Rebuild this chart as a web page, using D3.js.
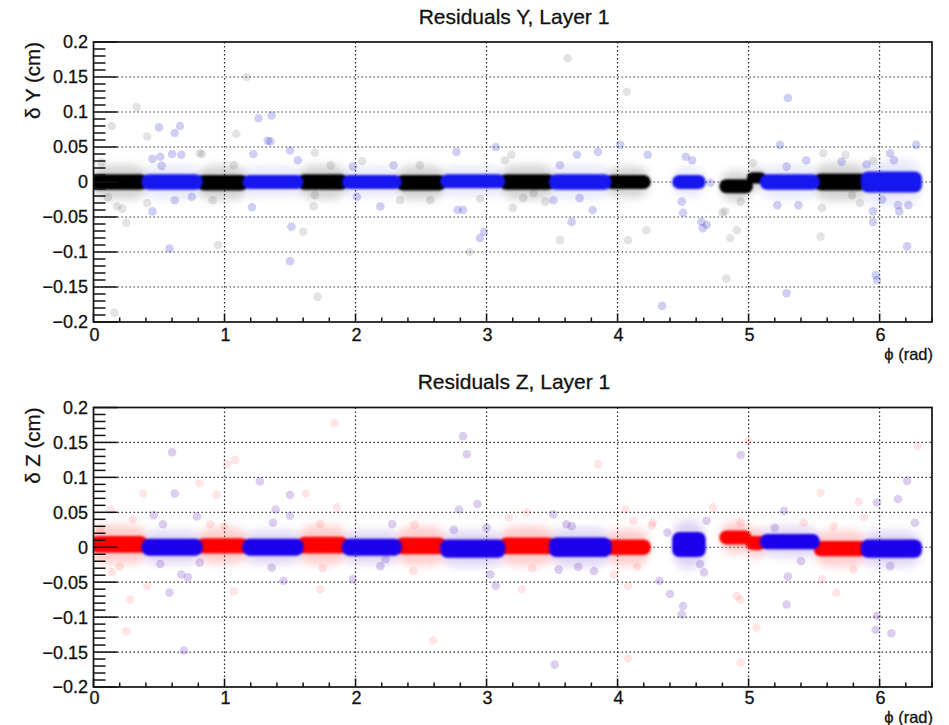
<!DOCTYPE html>
<html><head><meta charset="utf-8">
<script src="https://cdn.jsdelivr.net/npm/d3@7"></script>
<style>body{margin:0;background:#fff}svg{display:block}text{font-family:"Liberation Sans",Arial,Helvetica,sans-serif;fill:#111;stroke:#111;stroke-width:0.3}</style>
</head><body><svg id="c" width="949" height="725"></svg>
<script>
// ---------- data ----------
const xTicks = [0, 1, 2, 3, 4, 5, 6];
const yTicks = [-0.2, -0.15, -0.1, -0.05, 0, 0.05, 0.1, 0.15, 0.2];
const yTickLabels = ["\u22120.2", "\u22120.15", "\u22120.1", "\u22120.05", "0", "0.05", "0.1", "0.15", "0.2"];

// dense bands: [phiStart, phiEnd, centre (cm), half-thickness (cm)]
const yBlackBands = [[0.00,0.39,0.000,0.011],[0.81,1.16,-0.001,0.011],[1.58,1.92,0.000,0.011],[2.33,2.67,-0.001,0.011],[3.12,3.50,0.000,0.011],[3.93,4.23,0.000,0.010],[4.80,5.01,-0.006,0.010],[5.01,5.11,0.006,0.008],[5.52,5.88,0.000,0.012]];
const yBlueBands = [[0.39,0.81,0.000,0.011],[1.16,1.58,0.000,0.010],[1.92,2.33,0.000,0.010],[2.67,3.12,0.001,0.010],[3.50,3.93,0.000,0.011],[4.44,4.65,0.000,0.010],[5.11,5.52,0.000,0.011],[5.88,6.30,0.000,0.015]];
const zRedBands = [[0.00,0.39,0.004,0.012],[0.81,1.16,0.002,0.011],[1.58,1.92,0.003,0.012],[2.33,2.67,0.002,0.012],[3.12,3.50,0.002,0.012],[3.93,4.23,0.000,0.011],[4.80,5.00,0.014,0.010],[5.00,5.11,0.006,0.010],[5.52,5.88,-0.002,0.011]];
const zBlueBands = [[0.39,0.81,0.000,0.012],[1.16,1.58,0.000,0.012],[1.92,2.33,0.000,0.012],[2.67,3.12,-0.002,0.013],[3.50,3.93,0.000,0.014],[4.44,4.65,0.004,0.018],[5.11,5.52,0.008,0.011],[5.88,6.30,-0.002,0.013]];

// scattered points: [phi, residual (cm)]
const yGrayPoints = [[0.14,0.080],[0.33,0.107],[0.41,0.065],[0.83,0.040],[1.09,0.069],[1.17,0.150],[1.69,0.042],[0.18,-0.035],[0.25,-0.058],[0.16,-0.187],[0.41,-0.030],[0.91,-0.026],[0.95,-0.090],[1.60,-0.071],[1.69,-0.019],[0.81,0.041],[1.07,0.024],[1.81,0.024],[1.68,-0.035],[0.22,-0.038],[2.49,0.024],[2.57,-0.026],[3.14,0.031],[3.19,0.039],[3.28,-0.023],[3.45,-0.028],[3.36,-0.016],[2.34,-0.026],[3.20,-0.037],[4.82,-0.042],[4.94,-0.028],[5.03,0.027],[5.57,0.041],[5.74,0.039],[5.79,-0.019],[5.85,-0.030],[5.56,-0.037],[4.22,-0.069],[4.08,-0.083],[4.86,-0.080],[4.91,-0.069],[4.83,-0.138],[5.55,-0.078],[4.80,-0.044],[3.62,0.177],[4.07,0.129],[1.71,-0.164],[3.56,-0.083],[2.87,-0.100],[0.06,0.028],[0.11,-0.022],[2.05,0.030],[2.95,-0.024],[5.95,0.030]];
const yBluePoints = [[0.50,0.078],[0.66,0.080],[0.62,0.070],[1.26,0.091],[1.36,0.095],[1.33,0.059],[1.22,0.040],[0.60,0.040],[0.67,0.039],[0.45,0.033],[0.51,0.036],[1.50,0.045],[0.45,-0.042],[0.58,-0.095],[1.51,-0.064],[1.50,-0.113],[1.21,-0.036],[0.62,-0.026],[0.75,-0.021],[0.52,0.023],[1.35,0.058],[1.56,0.031],[1.98,0.022],[2.19,-0.035],[2.01,-0.021],[3.69,0.039],[3.71,-0.023],[3.85,0.043],[2.78,-0.040],[2.82,-0.040],[2.77,0.043],[3.07,0.050],[3.56,0.024],[3.51,-0.026],[3.65,-0.057],[3.81,-0.040],[2.29,0.024],[4.02,0.053],[4.23,0.039],[4.52,0.036],[4.57,0.031],[4.49,-0.028],[4.50,-0.044],[4.71,-0.001],[5.24,0.053],[5.29,0.022],[5.22,-0.033],[5.38,-0.033],[5.44,0.031],[5.71,0.029],[5.95,-0.042],[6.11,0.031],[6.14,-0.033],[6.15,-0.042],[6.22,-0.033],[6.28,0.053],[6.08,0.041],[4.64,-0.057],[4.68,-0.061],[4.65,-0.066],[4.34,-0.177],[5.29,-0.159],[6.21,-0.092],[5.97,-0.133],[5.98,-0.140],[5.95,-0.057],[2.98,-0.071],[2.95,-0.080],[5.30,0.120],[5.90,0.025],[6.02,-0.025]];
const zPinkPoints = [[0.38,0.077],[0.81,0.092],[0.94,0.075],[1.02,0.119],[1.08,0.125],[1.62,0.077],[0.89,0.033],[0.30,0.040],[0.13,0.054],[0.41,-0.055],[0.14,-0.036],[1.73,-0.060],[1.07,-0.063],[1.73,0.033],[1.86,0.057],[2.44,-0.034],[3.17,0.043],[3.27,-0.060],[3.31,0.050],[3.97,-0.039],[4.06,0.054],[4.27,0.035],[4.08,-0.055],[4.12,0.038],[4.26,0.031],[4.73,0.057],[4.91,-0.070],[4.94,-0.075],[4.94,-0.165],[5.06,-0.115],[5.42,0.035],[5.55,0.078],[5.56,-0.046],[5.67,-0.065],[5.84,0.065],[5.88,0.043],[4.94,0.035],[4.08,-0.159],[5.00,0.152],[1.84,0.178],[6.29,0.145],[0.28,-0.075],[0.25,-0.120],[2.59,-0.133],[3.85,0.119],[0.05,0.025],[0.20,-0.028],[1.00,0.030],[1.75,-0.030],[2.45,0.032],[3.35,-0.030],[4.15,-0.028],[5.65,0.030],[5.80,-0.032]];
const zPurplePoints = [[0.60,0.136],[0.62,0.077],[1.27,0.094],[1.50,0.075],[1.39,0.054],[1.37,0.035],[0.46,0.046],[0.53,0.033],[0.79,0.044],[0.51,-0.024],[0.67,-0.039],[0.72,-0.043],[0.81,-0.022],[0.58,-0.065],[1.36,-0.029],[1.45,-0.048],[2.19,-0.027],[2.23,-0.017],[1.98,-0.046],[1.50,0.045],[2.28,0.033],[2.79,0.054],[2.93,0.062],[3.03,-0.039],[3.07,-0.055],[3.51,0.047],[3.55,-0.032],[3.82,-0.034],[4.38,0.021],[3.61,0.033],[4.32,-0.048],[4.40,-0.067],[4.50,-0.084],[4.49,-0.096],[4.63,-0.024],[4.66,-0.036],[4.68,0.038],[5.29,-0.082],[5.30,-0.042],[5.27,0.052],[5.98,0.064],[6.14,0.069],[6.08,-0.027],[5.98,-0.098],[5.97,-0.118],[6.09,-0.123],[6.21,0.095],[6.27,0.035],[4.94,0.132],[2.82,0.159],[2.85,0.133],[0.69,-0.148],[3.52,-0.168],[2.75,0.025],[3.00,0.028],[3.65,0.030],[3.70,-0.028],[5.20,0.028],[5.40,-0.020]];

// ---------- drawing ----------
const svg = d3.select("#c");
const defs = svg.append("defs");
defs.append("filter").attr("id","bS").attr("x","-20%").attr("y","-100%").attr("width","140%").attr("height","300%")
  .append("feGaussianBlur").attr("stdDeviation",1.0);
defs.append("filter").attr("id","bL").attr("x","-20%").attr("y","-100%").attr("width","140%").attr("height","300%")
  .append("feGaussianBlur").attr("stdDeviation",4.5);

const x = d3.scaleLinear().domain([0, 6.4]).range([93.5, 932]);

const panels = [
  {id:"Y", title:"Residuals Y, Layer 1", titleY:24, top:42, bottom:322, ylab:"\u03b4 Y (cm)", tickDy:18.5, phiDy:37.5,
   layers:[
     {bands:yBlackBands, pts:yGrayPoints, core:"#000", halo:"#000", haloOp:0.17, haloK:2.2, ptCol:"#000", ptOp:0.11},
     {bands:yBlueBands, pts:yBluePoints, core:"#1414ee", halo:"#2a2ad0", haloOp:0.12, haloK:2.0, ptCol:"#2626c8", ptOp:0.22}
   ]},
  {id:"Z", title:"Residuals Z, Layer 1", titleY:389, top:407.5, bottom:687, ylab:"\u03b4 Z (cm)", tickDy:17, phiDy:36,
   layers:[
     {bands:zRedBands, pts:zPinkPoints, core:"#ff0000", halo:"#ff1010", haloOp:0.2, haloK:2.3, ptCol:"#ff0000", ptOp:0.1},
     {bands:zBlueBands, pts:zPurplePoints, core:"#1a00ec", halo:"#5a1cc0", haloOp:0.2, haloK:1.9, ptCol:"#5a20b0", ptOp:0.22}
   ]}
];

panels.forEach(p => {
  const y = d3.scaleLinear().domain([-0.2, 0.2]).range([p.bottom, p.top]);
  const g = svg.append("g");
  const clipId = "clip" + p.id;
  defs.append("clipPath").attr("id", clipId).append("rect")
    .attr("x", x(0)).attr("y", p.top).attr("width", x(6.4) - x(0)).attr("height", p.bottom - p.top);

  // grid
  const grid = g.append("g").attr("stroke", "#222").attr("stroke-width", 1.2).attr("stroke-dasharray", "1.4,2.6");
  grid.selectAll(".gx").data(xTicks.filter(t => t > 0)).join("line")
    .attr("x1", d => x(d)).attr("x2", d => x(d)).attr("y1", p.top).attr("y2", p.bottom);
  grid.selectAll(".gy").data(yTicks.filter(t => Math.abs(t) < 0.19)).join("line")
    .attr("x1", x(0)).attr("x2", x(6.4)).attr("y1", d => y(d)).attr("y2", d => y(d));

  // data
  const dg = g.append("g").attr("clip-path", `url(#${clipId})`);
  p.layers.forEach(L => {
    const hH = d => L.haloK * d[3];
    dg.append("g").attr("filter", "url(#bL)").selectAll("rect").data(L.bands).join("rect")
      .attr("x", d => x(d[0]) - 1).attr("width", d => x(d[1]) - x(d[0]) + 2)
      .attr("y", d => y(d[2] + hH(d))).attr("height", d => y(d[2] - hH(d)) - y(d[2] + hH(d)))
      .attr("rx", 12).attr("fill", L.halo).attr("opacity", L.haloOp);
    dg.append("g").selectAll("circle").data(L.pts).join("circle")
      .attr("cx", d => x(d[0])).attr("cy", d => y(d[1])).attr("r", 4.3)
      .attr("fill", L.ptCol).attr("fill-opacity", L.ptOp);
    dg.append("g").attr("filter", "url(#bS)").selectAll("rect").data(L.bands).join("rect")
      .attr("x", d => x(d[0]) - 3).attr("width", d => x(d[1]) - x(d[0]) + 6)
      .attr("y", d => y(d[2] + d[3])).attr("height", d => y(d[2] - d[3]) - y(d[2] + d[3]))
      .attr("rx", d => Math.min((y(d[2] - d[3]) - y(d[2] + d[3])) / 2, 7)).attr("fill", L.core);
  });

  // ticks (ROOT style, inside the frame)
  const tk = g.append("g").attr("stroke", "#111").attr("stroke-width", 1.5);
  const yMinor = d3.range(-0.2, 0.2001, 0.01);
  tk.selectAll(".ym").data(yMinor).join("line")
    .attr("x1", x(0)).attr("x2", d => x(0) + (Math.abs(Math.round(d * 100) % 5) === 0 ? 24 : 12))
    .attr("y1", d => y(d)).attr("y2", d => y(d));
  const xMinor = d3.range(0, 6.41, 0.2);
  tk.selectAll(".xm").data(xMinor).join("line")
    .attr("x1", d => x(d)).attr("x2", d => x(d))
    .attr("y1", p.bottom).attr("y2", d => p.bottom - (Math.abs(d - Math.round(d)) < 1e-6 ? 8.5 : 4.5));

  // frame
  g.append("rect").attr("x", x(0)).attr("y", p.top).attr("width", x(6.4) - x(0)).attr("height", p.bottom - p.top)
    .attr("fill", "none").attr("stroke", "#111").attr("stroke-width", 1.7);

  // tick labels
  g.append("g").selectAll("text").data(yTicks).join("text")
    .attr("x", 88).attr("y", d => y(d)).attr("dy", "0.36em").attr("text-anchor", "end")
    .attr("font-size", 18).text((d, i) => yTickLabels[i]);
  g.append("g").selectAll("text").data(xTicks).join("text")
    .attr("x", d => x(d) + 1).attr("y", p.bottom + p.tickDy).attr("text-anchor", "middle")
    .attr("font-size", 18).text(d => d);

  // axis titles
  g.append("text").attr("x", 933).attr("y", p.bottom + p.phiDy).attr("text-anchor", "end")
    .attr("font-size", 16.5).text("\u03d5 (rad)");
  g.append("text").attr("transform", `translate(40,${p.top}) rotate(-90)`).attr("text-anchor", "end")
    .attr("font-size", 20.5).text(p.ylab);
  g.append("text").attr("x", 514).attr("y", p.titleY).attr("text-anchor", "middle")
    .attr("font-size", 21).text(p.title);
});
</script></body></html>
